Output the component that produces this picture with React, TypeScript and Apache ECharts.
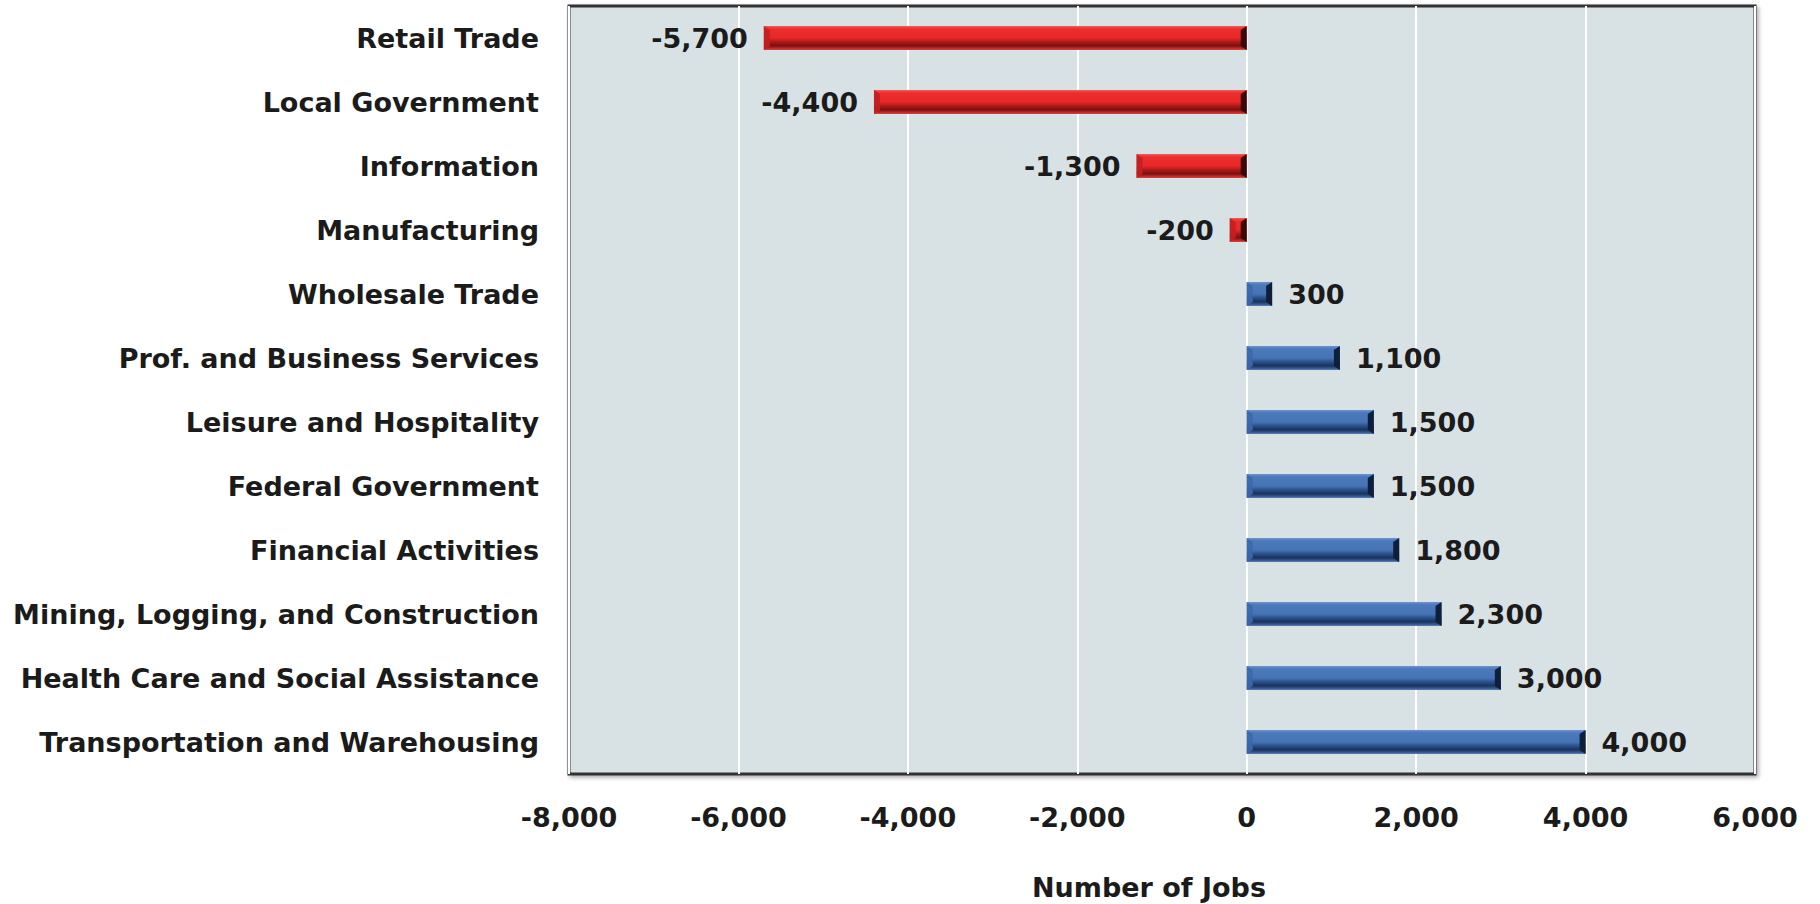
import React, { useEffect, useRef } from "react";
import * as echarts from "echarts";

const categories = [
  "Retail Trade",
  "Local Government",
  "Information",
  "Manufacturing",
  "Wholesale Trade",
  "Prof. and Business Services",
  "Leisure and Hospitality",
  "Federal Government",
  "Financial Activities",
  "Mining, Logging, and Construction",
  "Health Care and Social Assistance",
  "Transportation and Warehousing",
];
const jobChanges = [-5700, -4400, -1300, -200, 300, 1100, 1500, 1500, 1800, 2300, 3000, 4000];
const axisMin = -8000;
const axisMax = 6000;
const axisStep = 2000;
const axisTitle = "Number of Jobs";

const FONT = "'DejaVu Sans', sans-serif";
const TEXT = "#1b1b1b";
const BAR_W = 24;

const fmt = (v: number) => v.toLocaleString("en-US");

const redGrad = () =>
  new echarts.graphic.LinearGradient(0, 0, 0, 1, [
    { offset: 0, color: "#f25a5a" },
    { offset: 0.12, color: "#ee2c2c" },
    { offset: 0.5, color: "#e82828" },
    { offset: 0.68, color: "#a01a1a" },
    { offset: 0.82, color: "#7a1010" },
    { offset: 0.93, color: "#c02626" },
    { offset: 1, color: "#e44242" },
  ]);
const blueGrad = () =>
  new echarts.graphic.LinearGradient(0, 0, 0, 1, [
    { offset: 0, color: "#6d93cc" },
    { offset: 0.12, color: "#4a78bb" },
    { offset: 0.5, color: "#4674b6" },
    { offset: 0.68, color: "#2a4d84" },
    { offset: 0.82, color: "#1a345c" },
    { offset: 0.93, color: "#335a92" },
    { offset: 1, color: "#5880bb" },
  ]);

export default function App() {
  const ref = useRef<HTMLDivElement>(null);
  useEffect(() => {
    if (!ref.current) return;
    const chart = echarts.init(ref.current, undefined, { renderer: "svg" });
    const labelStyle = { fontFamily: FONT, fontWeight: "bold" as const, fontSize: 27, color: TEXT };
    chart.setOption({
      animation: false,
      grid: {
        left: 569,
        right: 65,
        top: 6,
        bottom: 130,
        outerBoundsMode: "none",
        containLabel: false,
        show: true,
        backgroundColor: "#d8e2e5",
        borderColor: "#333333",
        borderWidth: 3,
        shadowColor: "rgba(0,0,0,0.35)",
        shadowBlur: 4,
        shadowOffsetX: 2,
        shadowOffsetY: 2,
      },
      xAxis: {
        type: "value",
        min: axisMin,
        max: axisMax,
        interval: axisStep,
        axisLine: { show: false },
        axisTick: { show: false },
        splitLine: { show: true, lineStyle: { color: "#ffffff", width: 2 } },
        axisLabel: { ...labelStyle, margin: 30, formatter: (v: number) => fmt(v) },
        name: axisTitle,
        nameLocation: "middle",
        nameGap: 100,
        nameTextStyle: { ...labelStyle, padding: [0, 26, 0, 0] },
      },
      yAxis: {
        type: "category",
        data: categories,
        inverse: true,
        axisLine: { show: false },
        axisTick: { show: false },
        splitLine: { show: false },
        axisLabel: { ...labelStyle, margin: 30 },
      },
      series: [
        {
          type: "bar",
          barWidth: BAR_W,
          z: 2,
          data: jobChanges.map((v) => ({
            value: v,
            itemStyle: { color: v < 0 ? redGrad() : blueGrad() },
            label: {
              show: true,
              position: v < 0 ? "left" : "right",
              distance: 16,
              formatter: () => fmt(v),
              ...labelStyle,
            },
          })),
        },
        {
          type: "custom",
          z: 3,
          silent: true,
          encode: { x: 0, y: 1 },
          data: jobChanges.map((v, i) => [v, i]),
          renderItem: (params: any, api: any) => {
            const v = api.value(0);
            const i = api.value(1);
            const a = api.coord([0, i]);
            const b = api.coord([v, i]);
            const x0 = Math.min(a[0], b[0]);
            const x1 = Math.max(a[0], b[0]);
            const y0 = a[1] - BAR_W / 2;
            const y1 = a[1] + BAR_W / 2;
            const bv = Math.min(6, (x1 - x0) / 2);
            const neg = v < 0;
            return {
              type: "group",
              children: [
                {
                  type: "polygon",
                  shape: { points: [[x0, y0], [x0 + bv, y0 + 4], [x0 + bv, y1 - 4], [x0, y1]] },
                  style: { fill: neg ? "#c22020" : "#3d68a8", opacity: 0.9 },
                },
                {
                  type: "polygon",
                  shape: { points: [[x1, y0], [x1 - bv, y0 + 4], [x1 - bv, y1 - 4], [x1, y1]] },
                  style: { fill: neg ? "#3a0808" : "#0f1f3a" },
                },
              ],
            };
          },
        },
      ],
    });
    return () => chart.dispose();
  }, []);
  return (
    <div
      ref={ref}
      style={{ position: "fixed", left: 0, top: 0, width: 1820, height: 904, background: "#ffffff" }}
    />
  );
}
